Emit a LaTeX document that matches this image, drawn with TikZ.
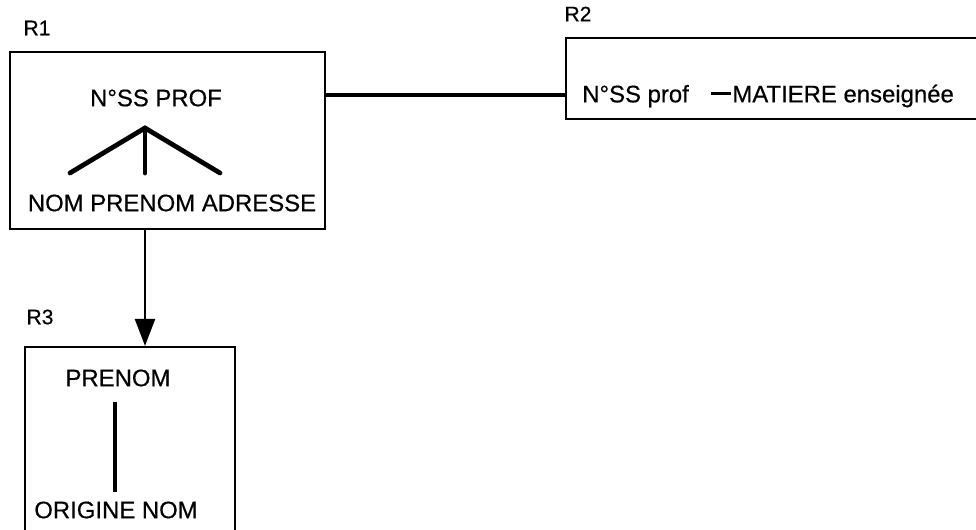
\documentclass[tikz,border=0pt]{standalone}
\usepackage{fontspec}
\setmainfont{Liberation Sans}[BoldFont=Liberation Sans, BoldFeatures={FakeBold=0.5}]
\usetikzlibrary{arrows.meta,positioning}

\newcommand{\thickdash}{\rule[5.2pt]{14pt}{2.2pt}}

\begin{document}
\begin{tikzpicture}[
  x=0.025cm, y=-0.025cm,
  rel/.style={draw, line width=1.4pt, inner sep=0pt},
  attr/.style={font=\fontsize{17}{20}\selectfont\bfseries, inner sep=0pt},
  tag/.style={font=\fontsize{15}{17}\selectfont\bfseries, inner sep=0pt},
  link/.style={line width=3pt},
  dep/.style={-{Triangle[length=6.8mm, width=5mm]}, line width=2pt}
]
\useasboundingbox (0,0) rectangle (976,529);
\clip (0,0) rectangle (976,529);

% === R1 ===
\node[tag] (lr1) at (37,28) {R1};
\node[rel, minimum width=7.875cm, minimum height=4.425cm] (r1) at (167.5,140.5) {};
\node[attr] (key1) at (156,98) {N°SS PROF};
\node[attr] (sub1) at (172,203) {NOM PRENOM ADRESSE};
\coordinate (apex) at (145,128);
\foreach \x [count=\i] in {70,145,220} {
  \coordinate (leaf\i) at (\x,173);
  \draw[link, line width=3.4pt, line cap=round] (apex) -- (leaf\i);
}

% === R2 ===
\node[tag] (lr2) at (578,14) {R2};
\node[rel, minimum width=10.6cm, minimum height=2.025cm] (r2) at (778,78.5) {};
\node[attr, anchor=west] (key2) at (582,96)
  {N°SS prof\hspace{16pt}\thickdash\hspace{1pt}MATIERE enseignée};
\coordinate (j) at (0,95);
\draw[link] (r1.east |- j) -- (r2.west |- j);

% === R3 ===
\node[tag] (lr3) at (40,317) {R3};
\node[rel, minimum width=5.25cm, minimum height=4.95cm] (r3) at (130,446) {};
\node[attr] (key3) at (118,378) {PRENOM};
\node[attr] (sub3) at (116,510) {ORIGINE NOM};
\coordinate (top3) at (115,402);
\coordinate (bot3) at (115,492);
\draw[link] (top3) -- (bot3);

% Dependency R1 -> R3
\coordinate (ax) at (145,0);
\draw[dep] (r1.south -| ax) -- (r3.north -| ax);

\end{tikzpicture}
\end{document}
